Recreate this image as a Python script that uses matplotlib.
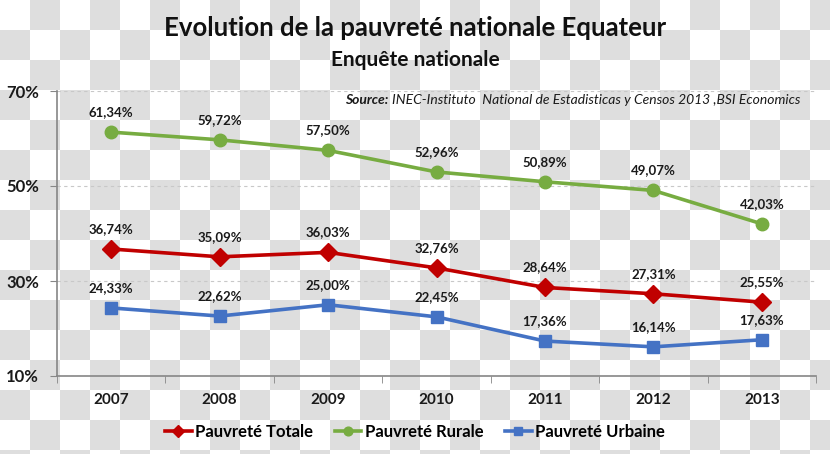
import numpy as np
import matplotlib
matplotlib.use("Agg")
import matplotlib.pyplot as plt
from matplotlib.ticker import FixedLocator

years = ["2007", "2008", "2009", "2010", "2011", "2012", "2013"]
totale = [36.74, 35.09, 36.03, 32.76, 28.64, 27.31, 25.55]
rurale = [61.34, 59.72, 57.50, 52.96, 50.89, 49.07, 42.03]
urbaine = [24.33, 22.62, 25.00, 22.45, 17.36, 16.14, 17.63]
yticks = [10, 30, 50, 70]

FONT = ["Lato", "DejaVu Sans"]
plt.rcParams["font.family"] = FONT

W, H = 830, 454
fig = plt.figure(figsize=(W / 100, H / 100), dpi=100)

# checkerboard background (transparent-image look)
yy, xx = np.mgrid[0:H, 0:W]
chk = ((xx // 30 + yy // 30) % 2).astype(bool)
bg = np.ones((H, W, 3))
bg[chk] = 222 / 255
fig.figimage(bg, xo=0, yo=0, zorder=-10, origin="upper")

ax = fig.add_axes([57 / W, 1 - 376 / H, (816 - 57) / W, (376 - 91) / H])
ax.set_facecolor("none")
ax.set_zorder(5)

x = np.arange(len(years))
red, green, blue = "#C00000", "#77AC41", "#4472C4"
ax.plot(x, totale, color=red, lw=2.6, marker="D", ms=9, label="Pauvreté Totale", zorder=3)
ax.plot(x, rurale, color=green, lw=2.6, marker="o", ms=9, label="Pauvreté Rurale", zorder=3)
ax.plot(x, urbaine, color=blue, lw=2.6, marker="s", ms=9, label="Pauvreté Urbaine", zorder=3)

for series in (totale, rurale, urbaine):
    for xi, v in zip(x, series):
        ax.annotate(f"{v:.2f}%".replace(".", ","), (xi, v), xytext=(0, 10),
                    textcoords="offset points", ha="center", va="bottom",
                    fontsize=9.5, fontweight="bold", color="#1a1a1a")

ax.set_xlim(-0.5, len(years) - 0.5)
ax.set_ylim(10, 70)
ax.set_yticks(yticks)
ax.set_yticklabels([f"{t}%" for t in yticks])
ax.set_xticks(x)
ax.set_xticklabels(years)
ax.xaxis.set_minor_locator(FixedLocator(np.arange(-0.5, len(years), 1.0)))
ax.tick_params(axis="x", which="major", length=0, pad=12, labelsize=11)
ax.tick_params(axis="x", which="minor", length=5, color="#868686")
ax.tick_params(axis="y", length=5, color="#868686", pad=8, labelsize=12)
for lab in ax.get_xticklabels() + ax.get_yticklabels():
    lab.set_fontweight("bold")
    lab.set_color("#1a1a1a")

for s in ("top", "right"):
    ax.spines[s].set_visible(False)
for s in ("left", "bottom"):
    ax.spines[s].set_color("#868686")
    ax.spines[s].set_linewidth(1.2)

ax.yaxis.grid(True, ls=(0, (3, 3)), color="#c8c8c8", lw=0.8)
ax.set_axisbelow(True)

fig.text(0.5, 1 - 28 / H, "Evolution de la pauvreté nationale Equateur", ha="center",
         va="center", fontsize=18.5, fontweight="bold", color="#111111")
fig.text(0.5, 1 - 60 / H, "Enquête nationale", ha="center", va="center",
         fontsize=15, fontweight="bold", color="#111111")

src = fig.text(800 / W, 1 - 100 / H, "INEC-Instituto  National de Estadisticas y Censos 2013 ,BSI Economics",
               ha="right", va="center", fontsize=10, style="italic", color="#1a1a1a")
fig.canvas.draw()
bb = src.get_window_extent()
fig.text(bb.x0 - 3, bb.y0 + bb.height / 2, "Source:", ha="right", va="center",
         fontsize=10, style="italic", fontweight="bold", color="#1a1a1a",
         transform=None)

leg = fig.legend(loc="center", bbox_to_anchor=(0.5, 1 - 432 / H), ncol=3, frameon=False,
                 fontsize=12, handlelength=1.6, handletextpad=0.2, columnspacing=1.3,
                 markerscale=0.7)
for t in leg.get_texts():
    t.set_fontweight("bold")

fig.savefig("out.png", dpi=100)
